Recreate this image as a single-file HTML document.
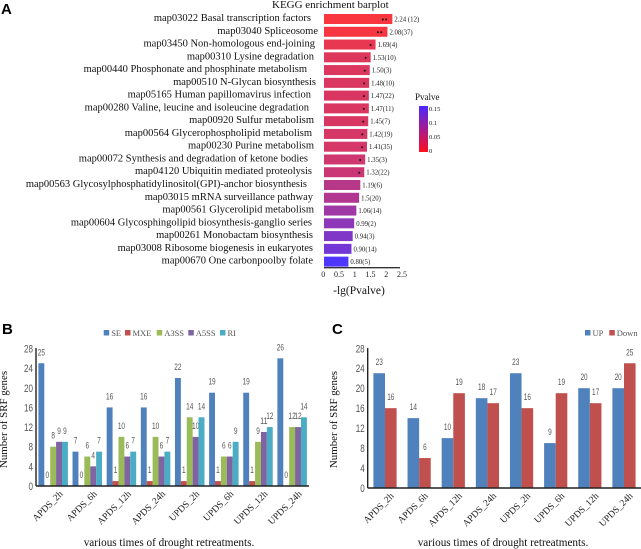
<!DOCTYPE html>
<html>
<head>
<meta charset="utf-8">
<style>
html,body{margin:0;padding:0;background:#fff;}
svg{display:block;filter:blur(0.3px);}
text{font-family:"Liberation Serif",serif;}
.narrow{font-family:"Liberation Sans",sans-serif;fill:#555;}
.panel{font-family:"Liberation Sans",sans-serif;font-weight:bold;font-size:15px;fill:#000;}
</style>
</head>
<body>
<svg id="figure" xmlns="http://www.w3.org/2000/svg" width="641" height="549" viewBox="0 0 641 549">
  <defs>
    <linearGradient id="pgrad" x1="0" y1="0" x2="0" y2="1">
      <stop offset="0" stop-color="#4a28ff"/>
      <stop offset="1" stop-color="#ff0f1e"/>
    </linearGradient>
  </defs>
  <text class="panel" x="1" y="14">A</text>
  <text class="panel" x="2" y="334">B</text>
  <text class="panel" x="332" y="334">C</text>
  <text x="272" y="8" font-size="11" fill="#111">KEGG enrichment barplot</text>
  <text x="359" y="294" text-anchor="middle" font-size="11.5" fill="#111">-lg(Pvalve)</text>
  <text x="415" y="100" font-size="9" fill="#111">Pvalve</text>
  <rect x="419" y="106" width="9" height="46" fill="url(#pgrad)"/>
  <text x="429" y="111" font-size="6.5" fill="#222">0.15</text>
  <text x="429" y="125" font-size="6.5" fill="#222">0.1</text>
  <text x="429" y="139" font-size="6.5" fill="#222">0.05</text>
  <text x="429" y="153" font-size="6.5" fill="#222">0</text>
  <g id="chart-a"></g>
  <g id="chart-b"></g>
  <g id="chart-c"></g>
</svg>
<script>
// ---------- Panel A data ----------
const keggCategories = ["map03022 Basal transcription factors","map03040 Spliceosome","map03450 Non-homologous end-joining","map00310 Lysine degradation","map00440 Phosphonate and phosphinate metabolism","map00510 N-Glycan biosynthesis","map05165 Human papillomavirus infection","map00280 Valine, leucine and isoleucine degradation","map00920 Sulfur metabolism","map00564 Glycerophospholipid metabolism","map00230 Purine metabolism","map00072 Synthesis and degradation of ketone bodies","map04120 Ubiquitin mediated proteolysis","map00563 Glycosylphosphatidylinositol(GPI)-anchor biosynthesis","map03015 mRNA surveillance pathway","map00561 Glycerolipid metabolism","map00604 Glycosphingolipid biosynthesis-ganglio series","map00261 Monobactam biosynthesis","map03008 Ribosome biogenesis in eukaryotes","map00670 One carbonpoolby folate"];
const keggValues = [2.24,2.08,1.69,1.53,1.50,1.48,1.47,1.47,1.45,1.42,1.41,1.35,1.32,1.19,1.15,1.06,0.99,0.94,0.90,0.80];
const keggPrintedValues = ["2.24 (12)","2.08(37)","1.69(4)","1.53(10)","1.50(3)","1.48(10)","1.47(22)","1.47(11)","1.45(7)","1.42(19)","1.41(35)","1.35(3)","1.32(22)","1.19(6)","1.5(20)","1.06(14)","0.99(2)","0.94(3)","0.90(14)","0.80(5)"];
const keggStars = [2,2,1,1,1,1,1,1,1,1,1,1,1,0,0,0,0,0,0,0];
const keggTicks = [0,0.5,1,1.5,2,2.5];

// ---------- Panel B data ----------
const timeCategories = ["APDS_2h","APDS_6h","APDS_12h","APDS_24h","UPDS_2h","UPDS_6h","UPDS_12h","UPDS_24h"];
const seValues = [25,7,16,16,22,19,19,26];
const mxeValues = [0,0,1,1,1,1,1,0];
const a3ssValues = [8,6,10,10,14,6,9,12];
const a5ssValues = [9,4,6,6,10,6,11,12];
const riValues = [9,7,7,7,14,9,12,14];
const countTicks = [0,4,8,12,16,20,24,28];

// ---------- Panel C data ----------
const upValues = [23,14,10,18,23,9,20,20];
const downValues = [16,6,19,17,16,19,17,25];

// ---------- Layout (not data) ----------
const keggLabelRightEdges = [311,318,315,314,307,316,311,309,314,312,314,308,312,307,313,314,312,313,313,313];
const NS = 'http://www.w3.org/2000/svg';
function make(parent, tag, attrs, txt) {
  const el = document.createElementNS(NS, tag);
  for (const k in attrs) el.setAttribute(k, attrs[k]);
  if (txt !== undefined) el.textContent = txt;
  parent.appendChild(el);
  return el;
}
function slug(s) {
  return String(s).toLowerCase().replace(/[^a-z0-9]+/g, '-');
}
// Squeezes the sans digits to the condensed look of the original chart labels.
function narrowed(el, digitWidth) {
  el.setAttribute('textLength', String(el.textContent).length * digitWidth);
  el.setAttribute('lengthAdjust', 'spacingAndGlyphs');
}

// ---------- Panel A ----------
const gA = document.getElementById('chart-a');
const keggX = v => 324 + v * 30.5;
const keggY = i => 19 + i * 12.77;
const keggTickX = v => 323.3 + v * 31.5;
function pColor(v) {
  const t = Math.min(1, Math.pow(10, -v) / 0.158);
  const r = Math.round(255 - t * 175);
  const g = 55;
  const b = Math.round(55 + t * 200);
  return 'rgb(' + r + ',' + g + ',' + b + ')';
}
keggCategories.forEach((name, i) => {
  const y = keggY(i);
  const label = make(gA, 'text', {x: keggLabelRightEdges[i], y: y + 2, 'text-anchor': 'end', 'font-size': 10.5, fill: '#111'}, name);
  
  
  const bar = make(gA, 'rect', {x: keggX(0), y: y - 5, width: keggX(keggValues[i]) - keggX(0), height: 10, fill: pColor(keggValues[i])});
  
  
  const val = make(gA, 'text', {x: keggX(keggValues[i]) + 2, y: y + 2.5, 'font-size': 6.8, fill: '#222'}, keggPrintedValues[i]);
  
  
  for (let s = 0; s < keggStars[i]; s++) {
    const dot = make(gA, 'circle', {cx: keggX(keggValues[i]) - (keggStars[i] === 2 ? 9.5 - s * 3.3 : 5), cy: y + 0.5, r: 1, fill: '#111'});
    
    
  }
});
const axisA = make(gA, 'line', {x1: 324, x2: 400, y1: 267.7, y2: 267.7, stroke: '#333', 'stroke-width': 1.3});


keggTicks.forEach(t => {
  const tick = make(gA, 'text', {x: keggTickX(t), y: 277, 'text-anchor': 'middle', 'font-size': 8, fill: '#222'}, t);
  
  
});

// ---------- Shared grouped chart ----------
function drawGrouped(g, cfg) {
  const y = v => cfg.y0 - v * cfg.unit;
  const groupX = i => cfg.x0 + i * 34.14;
  cfg.series.forEach((s, si) => {
    s.values.forEach((v, i) => {
      const x = groupX(i) + si * cfg.barW;
      if (v > 0) {
        const bar = make(g, 'rect', {x: x, y: y(v), width: cfg.barW, height: v * cfg.unit, fill: s.color});
        
        
      }
      const lab = make(g, 'text', {class: 'narrow', x: x + cfg.barW / 2, y: y(v) - 8, 'text-anchor': 'middle', 'font-size': 9}, v);
      narrowed(lab, 3.6);
      
      
    });
  });
  timeCategories.forEach((c, i) => {
    const ax = groupX(i) + cfg.labelDx;
    const ay = cfg.y0 + 8.5;
    const t = make(g, 'text', {x: ax, y: ay, 'text-anchor': 'end', 'font-size': 9.5, fill: '#222', transform: 'rotate(-45 ' + ax + ' ' + ay + ')'}, c);
    
    
  });
  countTicks.forEach(t => {
    const lab = make(g, 'text', {class: 'narrow', x: cfg.axisX - 3, y: y(t) + 4, 'text-anchor': 'end', 'font-size': 11}, t);
    narrowed(lab, 4.5);
    
    
  });
  const yAxis = make(g, 'line', {x1: cfg.axisX, x2: cfg.axisX, y1: 348, y2: cfg.y0, stroke: '#222', 'stroke-width': 1.4});
  
  
  const xAxis = make(g, 'line', {x1: cfg.axisX, x2: cfg.axisEnd, y1: cfg.y0, y2: cfg.y0, stroke: '#222', 'stroke-width': 1.4});
  
  
  const yt = make(g, 'text', {x: cfg.titleX + 3.5, y: 419.5, 'text-anchor': 'middle', 'font-size': 10.9, fill: '#111', transform: 'rotate(-90 ' + (cfg.titleX + 3.5) + ' 419.5)'}, 'Number of SRF genes');
  
  
  const xt = make(g, 'text', {x: cfg.xTitleX, y: 546, 'text-anchor': 'middle', 'font-size': 11.2, fill: '#111'}, 'various times of drought retreatments.');
  
  
  cfg.series.forEach(s => {
    const sw = make(g, 'rect', {x: s.legendX, y: 330, width: 5.5, height: 5.5, fill: s.color});
    
    
    const lt = make(g, 'text', {x: s.legendX + 7.5, y: 336, 'font-size': 8.5, fill: '#555'}, s.name);
    
    
  });
}

drawGrouped(document.getElementById('chart-b'), {
  y0: 486, unit: 4.91, x0: 38.4, barW: 5.9, axisX: 36, axisEnd: 309, titleX: 3.5, xTitleX: 169, labelDx: 25,
  series: [
    {name: 'SE', values: seValues, color: '#4f81bd', legendX: 103.7},
    {name: 'MXE', values: mxeValues, color: '#c0504d', legendX: 125},
    {name: 'A3SS', values: a3ssValues, color: '#9bbb59', legendX: 156.7},
    {name: 'A5SS', values: a5ssValues, color: '#8064a2', legendX: 188.3},
    {name: 'RI', values: riValues, color: '#4bacc6', legendX: 220}
  ]
});
drawGrouped(document.getElementById('chart-c'), {
  y0: 488, unit: 4.99, x0: 373.4, barW: 11.6, axisX: 367.7, axisEnd: 641, titleX: 333.5, xTitleX: 503, labelDx: 21,
  series: [
    {name: 'UP', values: upValues, color: '#4f81bd', legendX: 585},
    {name: 'Down', values: downValues, color: '#c0504d', legendX: 609.3}
  ]
});
</script>
</body>
</html>
